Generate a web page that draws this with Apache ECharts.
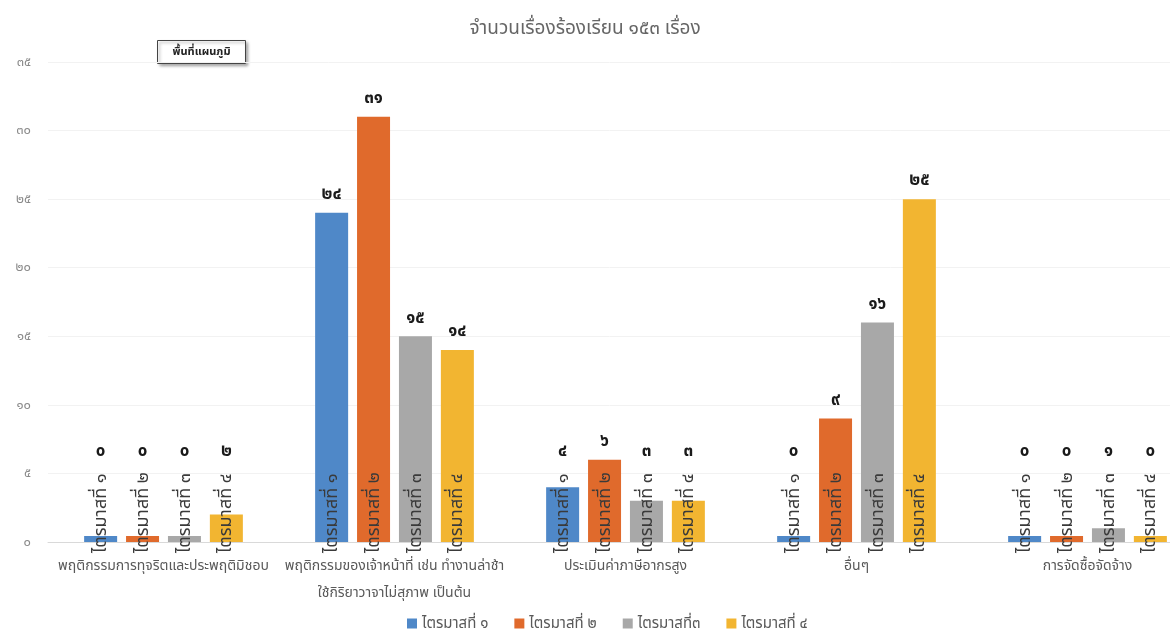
<!DOCTYPE html>
<html>
<head>
<meta charset="utf-8">
<script src="https://cdn.jsdelivr.net/npm/echarts@6/dist/echarts.min.js"></script>
<style>
html,body{margin:0;padding:0;background:#fff;}
#c{width:1170px;height:640px;}
</style>
</head>
<body>
<div id="c"></div>
<script>
const titleText = 'จำนวนเรื่องร้องเรียน ๑๕๓ เรื่อง';
const categories = [
  'พฤติกรรมการทุจริตและประพฤติมิชอบ',
  'พฤติกรรมของเจ้าหน้าที่ เช่น ทำงานล่าช้า\nใช้กิริยาวาจาไม่สุภาพ เป็นต้น',
  'ประเมินค่าภาษีอากรสูง',
  'อื่นๆ',
  'การจัดซื้อจัดจ้าง'
];
const seriesNames = ['ไตรมาสที่ ๑', 'ไตรมาสที่ ๒', 'ไตรมาสที่๓', 'ไตรมาสที่ ๔'];
const barNames = ['ไตรมาสที่ ๑', 'ไตรมาสที่ ๒', 'ไตรมาสที่ ๓', 'ไตรมาสที่ ๔'];
const q1 = [0, 24, 4, 0, 0];
const q2 = [0, 31, 6, 9, 0];
const q3 = [0, 15, 3, 16, 1];
const q4 = [2, 14, 3, 25, 0];
const yTicks = { min: 0, max: 35, interval: 5 };
const colors = ['#4F88C8', '#E06A2C', '#A8A8A8', '#F2B531'];
const chartAreaTip = 'พื้นที่แผนภูมิ';

const TH = '๐๑๒๓๔๕๖๗๘๙';
const thai = v => String(v).replace(/\d/g, d => TH[+d]);
const FONT = '"Noto Sans", "Noto Sans Thai", "Loma", sans-serif';

const chart = echarts.init(document.getElementById('c'));
const allData = [q1, q2, q3, q4];

const valueSeries = allData.map((d, i) => ({
  name: seriesNames[i],
  type: 'bar',
  data: d,
  xAxisIndex: 0,
  barWidth: 33,
  barGap: '27%',
  barMinHeight: 6,
  itemStyle: { color: colors[i] },
  label: {
    show: true,
    position: 'top',
    distance: 10,
    formatter: p => thai(p.value),
    fontFamily: FONT,
    fontWeight: 'bold',
    fontSize: 17,
    color: '#1a1a1a'
  },
  labelLayout: function (p) {
    const thr = chart.convertToPixel({ yAxisIndex: 0 }, 6.6);
    const cy = p.labelRect.y + p.labelRect.height / 2;
    if (cy > thr) return { dy: thr - cy };
    return {};
  },
  z: 2
}));

const nameSeries = allData.map((d, i) => ({
  name: seriesNames[i] + '_n',
  type: 'bar',
  data: d,
  xAxisIndex: 1,
  barWidth: 33,
  barGap: '27%',
  barMinHeight: 6,
  itemStyle: { color: 'rgba(0,0,0,0)' },
  silent: true,
  label: {
    show: true,
    position: 'insideBottom',
    distance: -11,
    rotate: 90,
    align: 'left',
    verticalAlign: 'middle',
    formatter: () => barNames[i],
    fontFamily: FONT,
    fontSize: 18,
    color: '#3a3a3a'
  },
  z: 3
}));

chart.setOption({
  animation: false,
  color: colors,
  textStyle: { fontFamily: FONT },
  title: {
    text: titleText,
    left: 'center',
    top: 14,
    textStyle: { fontFamily: FONT, fontSize: 19, fontWeight: 'normal', color: '#666666' }
  },
  legend: {
    data: seriesNames,
    bottom: 4,
    left: 402,
    icon: 'rect',
    itemWidth: 10,
    itemHeight: 10,
    itemGap: 26,
    textStyle: { fontFamily: FONT, fontSize: 15, color: '#595959' }
  },
  grid: { left: 48, width: 1155, top: 62, bottom: 98, containLabel: false, outerBoundsMode: 'none' },
  xAxis: [
    {
      type: 'category',
      data: categories,
      axisTick: { show: false },
      axisLine: { lineStyle: { color: '#d9d9d9' } },
      axisLabel: {
        interval: 0,
        margin: 11,
        fontFamily: FONT,
        fontSize: 14,
        lineHeight: 27,
        color: '#595959'
      }
    },
    {
      type: 'category',
      data: categories,
      show: false
    }
  ],
  yAxis: {
    type: 'value',
    min: yTicks.min,
    max: yTicks.max,
    interval: yTicks.interval,
    axisLine: { show: false },
    axisTick: { show: false },
    splitLine: { lineStyle: { color: '#f2f2f2' } },
    axisLabel: {
      margin: 17,
      formatter: v => thai(v),
      fontFamily: FONT,
      fontSize: 13,
      color: '#8a8a8a'
    }
  },
  graphic: [
    {
      type: 'group',
      left: 157,
      top: 40,
      children: [
        {
          type: 'rect',
          shape: { x: 0, y: 0, width: 88, height: 23 },
          style: { fill: '#fff', stroke: '#444', lineWidth: 1, shadowBlur: 3, shadowOffsetX: 2, shadowOffsetY: 2, shadowColor: 'rgba(0,0,0,0.35)' }
        },
        {
          type: 'text',
          x: 44,
          y: 11.5,
          style: { text: chartAreaTip, align: 'center', verticalAlign: 'middle', fontFamily: FONT, fontSize: 11, fontWeight: 'bold', fill: '#222' }
        }
      ]
    }
  ],
  series: valueSeries.concat(nameSeries)
});
</script>
</body>
</html>
